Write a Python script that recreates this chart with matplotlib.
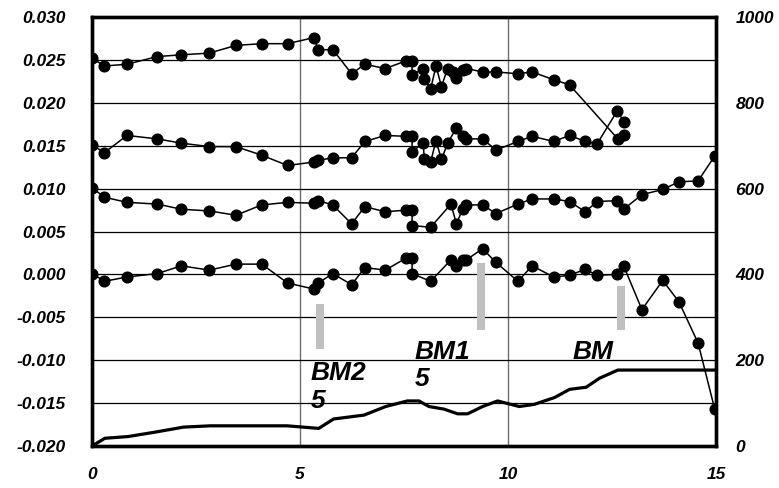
import numpy as np
import matplotlib
matplotlib.use("Agg")
import matplotlib.pyplot as plt

plt.rcParams['font.family'] = ['Liberation Sans', 'DejaVu Sans']
plt.rcParams['axes.unicode_minus'] = False

# four dotted series (left axis)
x1 = [0, 0.30, 0.84, 1.57, 2.15, 2.82, 3.46, 4.08, 4.70, 5.33, 5.44, 5.79, 6.24, 6.56, 7.05,
      7.55, 7.70, 7.69, 7.96, 7.99, 8.14, 8.27, 8.40, 8.55, 8.67, 8.76, 8.91, 9.00, 9.39,
      9.71, 10.24, 10.58, 11.10, 11.48, 12.64, 12.79]
y1 = [0.0252, 0.0243, 0.0245, 0.0254, 0.0256, 0.0258, 0.0267, 0.0269, 0.0269, 0.0276, 0.0262,
      0.0262, 0.0234, 0.0245, 0.0240, 0.0249, 0.0249, 0.0232, 0.0240, 0.0228, 0.0216, 0.0243,
      0.0219, 0.0240, 0.0236, 0.0229, 0.0238, 0.0240, 0.0236, 0.0236, 0.0234, 0.0236, 0.0227,
      0.0221, 0.0158, 0.0162]

x2 = [0, 0.30, 0.84, 1.57, 2.15, 2.82, 3.46, 4.08, 4.70, 5.33, 5.44, 5.79, 6.24, 6.56, 7.05,
      7.55, 7.70, 7.69, 7.96, 7.99, 8.14, 8.27, 8.40, 8.55, 8.76, 8.91, 9.00, 9.39, 9.71,
      10.24, 10.58, 11.10, 11.48, 11.86, 12.14, 12.63, 12.78]
y2 = [0.0151, 0.0142, 0.0162, 0.0158, 0.0153, 0.0149, 0.0149, 0.0139, 0.0127, 0.0131, 0.0133,
      0.0136, 0.0136, 0.0155, 0.0162, 0.0161, 0.0161, 0.0143, 0.0153, 0.0134, 0.0131, 0.0156,
      0.0134, 0.0153, 0.0171, 0.0161, 0.0158, 0.0158, 0.0145, 0.0155, 0.0161, 0.0155, 0.0162,
      0.0155, 0.0152, 0.0191, 0.0178]

x3 = [0, 0.30, 0.84, 1.57, 2.15, 2.82, 3.46, 4.08, 4.70, 5.33, 5.44, 5.79, 6.24, 6.56, 7.05,
      7.55, 7.70, 7.69, 8.14, 8.63, 8.76, 8.91, 9.00, 9.39, 9.71, 10.24, 10.58, 11.10, 11.48,
      11.86, 12.14, 12.63, 12.78, 13.22, 13.72, 14.11, 14.57, 14.97]
y3 = [0.0101, 0.0090, 0.0084, 0.0082, 0.0076, 0.0074, 0.0069, 0.0081, 0.0084, 0.0083, 0.0086,
      0.0081, 0.0059, 0.0079, 0.0073, 0.0075, 0.0075, 0.0057, 0.0055, 0.0082, 0.0059, 0.0076,
      0.0081, 0.0081, 0.0071, 0.0082, 0.0088, 0.0088, 0.0085, 0.0073, 0.0085, 0.0086, 0.0076,
      0.0093, 0.0099, 0.0108, 0.0109, 0.0138]

x4 = x3
y4 = [0.0001, -0.0008, -0.0003, 0.0001, 0.0010, 0.0005, 0.0012, 0.0012, -0.0010, -0.0017,
      -0.0010, 0.0001, -0.0012, 0.0008, 0.0005, 0.0019, 0.0019, 0.0001, -0.0008, 0.0017,
      0.0010, 0.0017, 0.0017, 0.0030, 0.0014, -0.0008, 0.0010, -0.0003, -0.0001, 0.0006,
      -0.0001, 0.0000, 0.0010, -0.0041, -0.0007, -0.0032, -0.0080, -0.0157]

# thick line on the right axis
xb = [0, 0.31, 0.87, 1.56, 2.2, 2.84, 4.69, 5.45, 5.81, 6.54, 7.06, 7.58, 7.86, 8.1, 8.46,
      8.79, 9.03, 9.39, 9.75, 10.27, 10.63, 11.12, 11.48, 11.88, 12.2, 12.64, 15.0]
yb = [0, 18, 22, 33, 44, 47, 47, 41, 63, 72, 92, 105, 105, 92, 86,
      75, 75, 92, 105, 92, 97, 113, 132, 137, 158, 177, 177]

# grey markers and their labels
bar_x = [5.47, 9.34, 12.72]
bar_top = [-0.0034, 0.0013, -0.0013]
bar_bottom = [-0.0087, -0.0065, -0.0065]
labels = ["BM2\n5", "BM1\n5", "BM"]
label_x = [5.26, 7.76, 11.56]
label_y = [-0.0101, -0.0076, -0.0076]

fig = plt.figure(figsize=(7.79, 4.88), dpi=100)
ax = fig.add_axes([0.1181, 0.0861, 0.8010, 0.8789])

tick_font = dict(fontsize=12.5, fontweight='bold', fontstyle='italic')

ax.vlines(bar_x, bar_bottom, bar_top, colors='#c0c0c0', lw=5.8, zorder=2)
for xs, ys in [(x1, y1), (x2, y2), (x3, y3), (x4, y4)]:
    ax.plot(xs, ys, '-o', color='black', lw=1.1, ms=7.7, zorder=3)

for t, tx, ty in zip(labels, label_x, label_y):
    ax.text(tx, ty, t, fontsize=19, fontweight='bold', fontstyle='italic',
            ha='left', va='top', zorder=4)

ax.set_xlim(0, 15)
ax.set_ylim(-0.020, 0.030)
ax.set_xticks([0, 5, 10, 15])
ax.set_yticks(np.arange(-0.020, 0.0301, 0.005))
ax.set_yticklabels(['%.3f' % v for v in np.arange(-0.020, 0.0301, 0.005)], **tick_font)
ax.set_xticklabels(['0', '5', '10', '15'], **tick_font)
ax.yaxis.grid(True, color='black', lw=0.9)
ax.xaxis.grid(True, color='#707070', lw=1.0)
ax.set_axisbelow(True)
ax.tick_params(axis='y', length=0, pad=19)
ax.tick_params(axis='x', length=0, pad=15)
for s in ax.spines.values():
    s.set_linewidth(2.4)

ax2 = ax.twinx()
ax2.plot(xb, yb, color='black', lw=2.3, zorder=3)
ax2.set_ylim(0, 1000)
ax2.set_yticks([0, 200, 400, 600, 800, 1000])
ax2.set_yticklabels(['0', '200', '400', '600', '800', '1000'], **tick_font)
ax2.tick_params(axis='y', length=0, pad=14)
for s in ax2.spines.values():
    s.set_linewidth(2.4)

fig.savefig('out.png', dpi=100)
